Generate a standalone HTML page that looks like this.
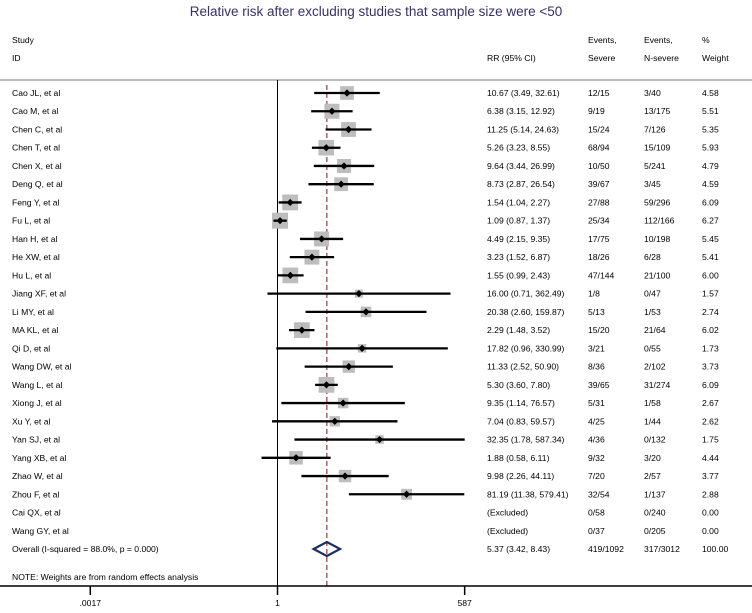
<!DOCTYPE html>
<html><head><meta charset="utf-8"><style>
body{margin:0;background:#fff;}
svg text{font-family:"Liberation Sans",sans-serif;font-size:8.6px;fill:#000;}
</style></head><body>
<svg width="752" height="608" viewBox="0 0 752 608" id="plot">
<text x="376" y="16" text-anchor="middle" style="font-size:13.5px;fill:#333366">Relative risk after excluding studies that sample size were &lt;50</text>
<g>
<text x="12" y="43">Study</text><text x="12" y="61">ID</text>
<text x="487" y="61">RR (95% CI)</text>
<text x="588" y="43">Events,</text><text x="588" y="61">Severe</text>
<text x="644" y="43">Events,</text><text x="644" y="61">N-severe</text>
<text x="702" y="43">%</text><text x="702" y="61">Weight</text>
</g>
<line x1="0" y1="80" x2="752" y2="80" stroke="#bbb" stroke-width="2"/>
<line x1="277.5" y1="80" x2="277.5" y2="586" stroke="#000" stroke-width="1"/>
<g id="rows"></g>
<text x="12" y="580">NOTE: Weights are from random effects analysis</text>
<g id="axis"></g>
</svg>
<script>
const studies=["Cao JL, et al","Cao M, et al","Chen C, et al","Chen T, et al","Chen X, et al","Deng Q, et al","Feng Y, et al","Fu L, et al","Han H, et al","He XW, et al","Hu L, et al","Jiang XF, et al","Li MY, et al","MA KL, et al","Qi D, et al","Wang DW, et al","Wang L, et al","Xiong J, et al","Xu Y, et al","Yan SJ, et al","Yang XB, et al","Zhao W, et al","Zhou F, et al","Cai QX, et al","Wang GY, et al"];
const rr=[10.67,6.38,11.25,5.26,9.64,8.73,1.54,1.09,4.49,3.23,1.55,16.00,20.38,2.29,17.82,11.33,5.30,9.35,7.04,32.35,1.88,9.98,81.19,null,null];
const lo=[3.49,3.15,5.14,3.23,3.44,2.87,1.04,0.87,2.15,1.52,0.99,0.71,2.60,1.48,0.96,2.52,3.60,1.14,0.83,1.78,0.58,2.26,11.38,null,null];
const hi=[32.61,12.92,24.63,8.55,26.99,26.54,2.27,1.37,9.35,6.87,2.43,362.49,159.87,3.52,330.99,50.90,7.80,76.57,59.57,587.34,6.11,44.11,579.41,null,null];
const sev=["12/15","9/19","15/24","68/94","10/50","39/67","27/88","25/34","17/75","18/26","47/144","1/8","5/13","15/20","3/21","8/36","39/65","5/31","4/25","4/36","9/32","7/20","32/54","0/58","0/37"];
const nsev=["3/40","13/175","7/126","15/109","5/241","3/45","59/296","112/166","10/198","6/28","21/100","0/47","1/53","21/64","0/55","2/102","31/274","1/58","1/44","0/132","3/20","2/57","1/137","0/240","0/205"];
const wt=[4.58,5.51,5.35,5.93,4.79,4.59,6.09,6.27,5.45,5.41,6.00,1.57,2.74,6.02,1.73,3.73,6.09,2.67,2.62,1.75,4.44,3.77,2.88,0.00,0.00];
const overall=[5.37,3.42,8.43];
const overallText=["Overall  (I-squared = 88.0%, p = 0.000)","5.37 (3.42, 8.43)","419/1092","317/3012","100.00"];
const ticks=[0.0017,1,587];
const tickLabels=[".0017","1","587"];
const NS="http://www.w3.org/2000/svg";
const x=v=>277.5+67.6*Math.log10(v);
const y=i=>93+18.24*i;
const rows=document.getElementById('rows');
function mk(tag,at,par){const e=document.createElementNS(NS,tag);for(const k in at)e.setAttribute(k,at[k]);(par||rows).appendChild(e);return e;}
function txt(s,xx,yy,par){const t=mk('text',{x:xx,y:yy},par);t.textContent=s;return t;}
mk('line',{x1:x(overall[0]),y1:85,x2:x(overall[0]),y2:586,stroke:'#a0333a','stroke-width':1.2,'stroke-dasharray':'5,3'});


studies.forEach((s,i)=>{
  const g=mk('g',{});
  
  
  const yy=y(i);
  txt(s,12,yy+3,g);
  txt(rr[i]==null?"(Excluded)":`${rr[i].toFixed(2)} (${lo[i].toFixed(2)}, ${hi[i].toFixed(2)})`,487,yy+3,g);
  txt(sev[i],588,yy+3,g);txt(nsev[i],644,yy+3,g);txt(wt[i].toFixed(2),702,yy+3,g);
  if(rr[i]!=null){
    const side=6.4*Math.sqrt(wt[i]);
    const b=mk('rect',{x:x(rr[i])-side/2,y:yy-side/2,width:side,height:side,fill:'#bdbdbd'},g);
    
    
    const l=mk('line',{x1:x(lo[i]),y1:yy,x2:x(hi[i]),y2:yy,stroke:'#000','stroke-width':2.3},g);
    
    
    const cx=x(rr[i]);
    const d=mk('polygon',{points:`${cx},${yy-3.6} ${cx+3.6},${yy} ${cx},${yy+3.6} ${cx-3.6},${yy}`,fill:'#000'},g);
    
    
  }
});
const oy=y(25);
const og=mk('g',{});


txt(overallText[0],12,oy+3,og);txt(overallText[1],487,oy+3,og);txt(overallText[2],588,oy+3,og);txt(overallText[3],644,oy+3,og);txt(overallText[4],702,oy+3,og);
const dm=mk('polygon',{points:`${x(overall[1])},${oy} ${x(overall[0])},${oy-7} ${x(overall[2])},${oy} ${x(overall[0])},${oy+7}`,fill:'none',stroke:'#1f2f5f','stroke-width':2.2},og);


const ax=document.getElementById('axis');
mk('line',{x1:0,y1:586,x2:752,y2:586,stroke:'#000','stroke-width':1.5},ax);
ticks.forEach((t,i)=>{
  mk('line',{x1:x(t),y1:586,x2:x(t),y2:595,stroke:'#000','stroke-width':1.5},ax);
  const tl=txt(tickLabels[i],x(t),606,ax);
  tl.setAttribute('text-anchor','middle');
  
  
});
</script>
</body></html>
